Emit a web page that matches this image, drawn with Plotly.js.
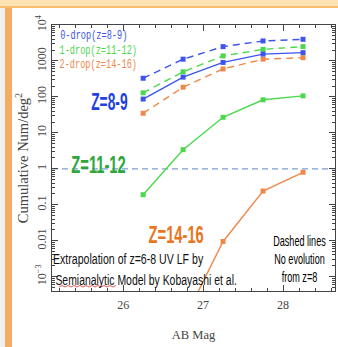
<!DOCTYPE html>
<html><head><meta charset="utf-8">
<script src="https://cdn.plot.ly/plotly-3.0.1.min.js"></script>
<style>html,body{margin:0;padding:0;background:#fff;overflow:hidden}#chart{width:338px;height:347px}</style>
</head><body><div id="chart"></div>
<script>
// AB magnitude limits
const mags = [26.25, 26.75, 27.25, 27.75, 28.25];
// Cumulative number per deg^2
const zdrop0_noEvol = [330, 1120, 2500, 3600, 4000];   // 0-drop dashed
const zdrop1_noEvol = [130, 500, 1380, 2100, 2500];    // 1-drop dashed
const zdrop2_noEvol = [35, 186, 600, 1120, 1230];      // 2-drop dashed
const zdrop0_model = [87, 355, 910, 1550, 1700];       // Z=8-9 solid
const zdrop1_model = [0.19, 3.4, 27, 83, 107];         // Z=11-12 solid
const zdrop2_model = [null, 5.6e-5, 0.0095, 0.24, 0.8];// Z=14-16 solid
const refLevel = 1;
const xRange = [25.11, 28.65];
const yRangeLog = [-3.4, 4];
const legendLabels = ['0-drop(z=8-9)', '1-drop(z=11-12)', '2-drop(z=14-16)'];

const BLUE = '#3d55ee', GREEN = '#4cd84c', ORANGE = '#f0884a', REF = '#7f9fd2';

function tr(y, color, dash) {
  return {x: mags, y: y, type: 'scatter', mode: 'lines+markers',
    line: {color: color, width: 1.4, dash: dash ? '7px,5px' : 'solid'},
    marker: {color: color, size: 5, symbol: 'square'}, showlegend: false, hoverinfo: 'skip'};
}
const data = [
  {x: xRange, y: [refLevel, refLevel], type: 'scatter', mode: 'lines',
   line: {color: REF, width: 1.2, dash: '6px,4px'}, showlegend: false, hoverinfo: 'skip'},
  tr(zdrop0_noEvol, BLUE, true),
  tr(zdrop1_noEvol, GREEN, true),
  tr(zdrop2_noEvol, ORANGE, true),
  tr(zdrop0_model, BLUE, false),
  tr(zdrop1_model, GREEN, false),
  tr(zdrop2_model, ORANGE, false)
];

const L = 52, R = 3, T = 25, B = 56, W = 338, H = 347;
const pw = W - L - R, ph = H - T - B;
const px = v => (v - L) / pw;
const py = v => (H - B - v) / ph;

const serif = 'Liberation Serif, DejaVu Serif, serif';
const sans = 'Liberation Sans, Arial, sans-serif';
const mono = 'Liberation Mono, DejaVu Sans Mono, monospace';

// [text, centre x px, centre y px, font, size, colour, horizontal squeeze]
const notes = [
  [legendLabels[0], 93.5, 36, mono, 12.5, BLUE, 0.69],
  [legendLabels[1], 98.5, 51, mono, 12.5, GREEN, 0.69],
  [legendLabels[2], 98.5, 65, mono, 12.5, ORANGE, 0.69],
  ['<b>Z=8-9</b>', 109, 102, sans, 23, '#1f3fe0', 0.6],
  ['<b>Z=11-12</b>', 98, 165, sans, 23, '#2ea63a', 0.64],
  ['<b>Z=14-16</b>', 176, 235, sans, 23, '#e8761e', 0.64],
  ['Extrapolation of z=6-8 UV LF by', 128, 259, sans, 14.5, '#111', 0.73],
  ['Semianalytic Model by Kobayashi et al.', 145.5, 280, sans, 14.5, '#111', 0.72],
  ['Dashed lines<br>No evolution<br>from z=8', 299, 259, sans, 14, '#000', 0.65]
];
const annotations = notes.map(n => ({xref: 'paper', yref: 'paper', x: px(n[1]), y: py(n[2]),
  xanchor: 'center', yanchor: 'middle', align: 'center', showarrow: false, text: n[0],
  font: {family: n[3], size: n[4], color: n[5]}}));

// red spell-check squiggle under "Semianalytic"
let sq = 'M ' + px(59) + ',' + py(287);
for (let i = 1; i <= 19; i++) sq += ' L ' + px(59 + i * 3) + ',' + py(i % 2 ? 285.5 : 287);

const layout = {
  width: W, height: H,
  margin: {l: L, r: R, t: T, b: B},
  paper_bgcolor: '#ffffff', plot_bgcolor: '#ffffff',
  xaxis: {range: xRange, showgrid: false, zeroline: false, showline: true, mirror: 'ticks',
    linecolor: '#444', linewidth: 1.2, ticks: 'inside', ticklen: 6, tickcolor: '#444',
    tickvals: [26, 27, 28], tickfont: {family: serif, size: 12, color: '#444'}, ticklabelstandoff: 2,
    minor: {ticks: 'inside', ticklen: 3, dtick: 0.2, tickcolor: '#444', showgrid: false},
    title: {text: 'AB Mag', font: {family: serif, size: 12.5, color: '#444'}, standoff: 19}},
  yaxis: {type: 'log', range: yRangeLog, showgrid: false, zeroline: false, showline: true, mirror: 'ticks',
    linecolor: '#444', linewidth: 1.2, ticks: 'inside', ticklen: 6, tickcolor: '#444', dtick: 1,
    tickangle: -90, tickfont: {family: serif, size: 12, color: '#444'},
    labelalias: {'10k': '10<sup>4</sup>', '0.001': '10<sup>−3</sup>'},
    minor: {ticks: 'inside', ticklen: 3, tickcolor: '#444', showgrid: false},
    title: {text: 'Cumulative Num/deg<sup>2</sup>', font: {family: serif, size: 14.5, color: '#444'}, standoff: 1}},
  annotations: annotations,
  shapes: [
    {type:'rect', xref:'paper', yref:'paper', x0: px(0), x1: px(338), y0: py(6), y1: py(0),
     fillcolor:'#fde2b4', line:{width:0}, layer:'below'},
    {type:'rect', xref:'paper', yref:'paper', x0: px(0), x1: px(338), y0: py(8), y1: py(6),
     fillcolor:'#f6bf6e', line:{width:0}, layer:'below'},
    {type:'rect', xref:'paper', yref:'paper', x0: px(5), x1: px(12), y0: py(347), y1: py(8),
     fillcolor:'#f6ad62', line:{width:0}, layer:'below'},
    {type:'rect', xref:'paper', yref:'paper', x0: px(0), x1: px(5), y0: py(347), y1: py(8),
     fillcolor:'#f1f1f1', line:{width:0}, layer:'below'},
    {type:'path', xref:'paper', yref:'paper', path: sq, line:{color:'#e03030', width:0.8}}
  ]
};
Plotly.newPlot('chart', data, layout, {staticPlot: true, displayModeBar: false}).then(gd => {
  notes.forEach((n, i) => {
    const t = gd.querySelector('.annotation[data-index="' + i + '"] text.annotation-text');
    if (t) {
      t.style.transformBox = 'fill-box';
      t.style.transformOrigin = 'center';
      t.style.transform = 'scaleX(' + n[6] + ')';
    }
  });
});
</script></body></html>
